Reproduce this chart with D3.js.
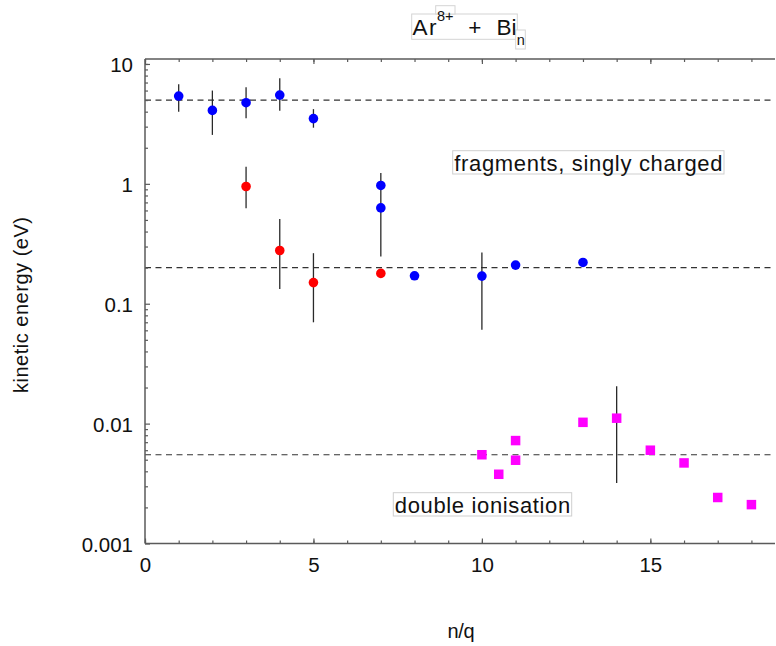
<!DOCTYPE html>
<html>
<head>
<meta charset="utf-8">
<script src="https://cdn.jsdelivr.net/npm/d3@7"></script>
<style>
  html, body { margin: 0; padding: 0; background: #fff; }
  svg { display: block; font-family: Arial, "Liberation Sans", sans-serif; }
</style>
</head>
<body>
<svg id="chart" width="776" height="646"></svg>
<script>
// ---- data ----
const singleN   = [1, 2, 3, 4, 5, 7, 7, 8, 10, 11, 13];
const singleE   = [5.4, 4.1, 4.75, 5.5, 3.5, 0.97, 0.63, 0.171, 0.17, 0.21, 0.221];
const singleLo  = [4.0, 2.56, 3.53, 4.08, 2.94, null, 0.248, null, 0.0607, null, null];
const singleHi  = [6.78, 6.0, 6.4, 7.6, 4.2, null, 1.23, null, 0.268, null, null];

const redN  = [3, 4, 5, 7];
const redE  = [0.95, 0.278, 0.15, 0.179];
const redLo = [0.627, 0.133, 0.07, null];
const redHi = [1.39, 0.508, 0.264, null];

const doubleN  = [10, 10.5, 11, 11, 13, 14, 15, 16, 17, 18];
const doubleE  = [0.0055, 0.00378, 0.00722, 0.00495, 0.01025, 0.0111, 0.006, 0.0047, 0.00242, 0.00211];
const doubleLo = [null, null, null, null, null, 0.0032, null, null, null, null];
const doubleHi = [null, null, null, null, null, 0.0205, null, null, null, null];

const refLevels = [5, 0.2, 0.0055];

const xMajorTicks = [0, 5, 10, 15];
const xMinorTicks = d3.range(0, 19);
const yMajorTicks = [10, 1, 0.1, 0.01, 0.001];
const yTickLabels = ["10", "1", "0.1", "0.01", "0.001"];

// ---- layout ----
const pLeft = 145, pRight = 775, pTop = 59, pBottom = 543.5;
const svg = d3.select("#chart");

const x = d3.scaleLinear().domain([0, 18.7]).range([pLeft, pRight]);
const y = d3.scaleLog().domain([0.001, 11.0]).range([pBottom, pTop]);

const axisColor = "#5a5a5a";

// reference dashed lines
svg.append("g").selectAll("line").data(refLevels).join("line")
  .attr("x1", pLeft).attr("x2", pRight)
  .attr("y1", d => y(d)).attr("y2", d => y(d))
  .attr("stroke", "#333").attr("stroke-width", 1.2)
  .attr("stroke-dasharray", "6,4.5");

// axes
function styleAxis(g) {
  g.select(".domain").remove();
  g.selectAll(".tick line").attr("stroke", axisColor).attr("stroke-width", 1.2);
}
// bottom
svg.append("g").attr("transform", `translate(0,${pBottom})`)
  .call(d3.axisBottom(x).tickValues(xMinorTicks).tickSize(-3).tickFormat(""))
  .call(styleAxis);
const gxb = svg.append("g").attr("transform", `translate(0,${pBottom})`)
  .call(d3.axisBottom(x).tickValues(xMajorTicks).tickSize(-5).tickPadding(13.5).tickFormat(d => d))
  .call(styleAxis);
gxb.selectAll("text").attr("font-size", 20.5).attr("fill", "#111").attr("font-family", "Arial, 'Liberation Sans', sans-serif");
// top
svg.append("g").attr("transform", `translate(0,${pTop})`)
  .call(d3.axisTop(x).tickValues(xMinorTicks).tickSize(-3).tickFormat(""))
  .call(styleAxis);
svg.append("g").attr("transform", `translate(0,${pTop})`)
  .call(d3.axisTop(x).tickValues(xMajorTicks).tickSize(-5).tickFormat(""))
  .call(styleAxis);
// left
const yMinor = [];
[0.001, 0.01, 0.1, 1].forEach(b => { for (let k = 2; k <= 9; k++) yMinor.push(b * k); });
yMinor.push(10);
svg.append("g").attr("transform", `translate(${pLeft},0)`)
  .call(d3.axisLeft(y).tickValues(yMinor).tickSize(-3).tickFormat(""))
  .call(styleAxis);
const gyl = svg.append("g").attr("transform", `translate(${pLeft},0)`)
  .call(d3.axisLeft(y).tickValues(yMajorTicks).tickSize(-5).tickPadding(12)
    .tickFormat((d, i) => yTickLabels[i]))
  .call(styleAxis);
gyl.selectAll("text").attr("font-size", 20.5).attr("fill", "#111").attr("dy", "0.37em")
  .attr("font-family", "Arial, 'Liberation Sans', sans-serif");

// axis lines
svg.append("line").attr("x1", pLeft).attr("x2", pRight).attr("y1", pBottom).attr("y2", pBottom)
  .attr("stroke", axisColor).attr("stroke-width", 1.5);
svg.append("line").attr("x1", pLeft).attr("x2", pRight).attr("y1", pTop).attr("y2", pTop)
  .attr("stroke", axisColor).attr("stroke-width", 1.5);
svg.append("line").attr("x1", pLeft).attr("x2", pLeft).attr("y1", pTop).attr("y2", pBottom)
  .attr("stroke", axisColor).attr("stroke-width", 1.5);

// error bars
function errorBars(ns, lo, hi) {
  const idx = d3.range(ns.length).filter(i => lo[i] != null);
  svg.append("g").selectAll("line").data(idx).join("line")
    .attr("x1", i => x(ns[i])).attr("x2", i => x(ns[i]))
    .attr("y1", i => y(hi[i])).attr("y2", i => y(lo[i]))
    .attr("stroke", "#2a2a2a").attr("stroke-width", 1.3);
}
errorBars(singleN, singleLo, singleHi);
errorBars(redN, redLo, redHi);
errorBars(doubleN, doubleLo, doubleHi);

// points
svg.append("g").selectAll("circle").data(d3.range(singleN.length)).join("circle")
  .attr("cx", i => x(singleN[i])).attr("cy", i => y(singleE[i])).attr("r", 4.8)
  .attr("fill", "#0000ff");
svg.append("g").selectAll("circle").data(d3.range(redN.length)).join("circle")
  .attr("cx", i => x(redN[i])).attr("cy", i => y(redE[i])).attr("r", 4.8)
  .attr("fill", "#ff0000");
const sq = 9.5;
svg.append("g").selectAll("rect").data(d3.range(doubleN.length)).join("rect")
  .attr("x", i => x(doubleN[i]) - sq / 2).attr("y", i => y(doubleE[i]) - sq / 2)
  .attr("width", sq).attr("height", sq)
  .attr("fill", "#ff00ff");

// labelled boxes
function boxLabel(txt, x0, yTop, w, h, baseline, size) {
  svg.append("rect").attr("x", x0).attr("y", yTop).attr("width", w).attr("height", h)
    .attr("fill", "#fff").attr("stroke", "#cfcfcf").attr("stroke-width", 1);
  svg.append("text").attr("x", x0 + 1.5).attr("y", baseline)
    .attr("font-size", size).attr("fill", "#111")
    .attr("textLength", w - 3).attr("lengthAdjust", "spacing")
    .text(txt);
}
boxLabel("fragments, singly charged", 452.7, 150.7, 271.3, 23.3, 170.7, 22);
boxLabel("double ionisation", 393.3, 492.7, 178.4, 23.3, 512.7, 22);

// axis titles
svg.append("text").attr("x", 461).attr("y", 638).attr("text-anchor", "middle")
  .attr("font-size", 20).attr("fill", "#111").attr("textLength", 27).text("n/q");
svg.append("text").attr("transform", "translate(28,305) rotate(-90)")
  .attr("text-anchor", "middle").attr("font-size", 20).attr("fill", "#111")
  .attr("textLength", 176).attr("lengthAdjust", "spacing")
  .text("kinetic energy (eV)");

// chart title with boxed pieces: Ar^8+ + Bi_n
const tg = svg.append("g");
const boxStroke = "#d4d4d4";
tg.append("rect").attr("x", 411.7).attr("y", 14).attr("width", 105.6).attr("height", 25.3)
  .attr("fill", "none").attr("stroke", boxStroke);
tg.append("rect").attr("x", 435.7).attr("y", 5.7).attr("width", 19.3).attr("height", 8.3)
  .attr("fill", "#fff").attr("stroke", boxStroke);
tg.append("rect").attr("x", 515.7).attr("y", 30).attr("width", 9.6).attr("height", 19)
  .attr("fill", "#fff").attr("stroke", boxStroke);
tg.append("text").attr("x", 412.5).attr("y", 34.7).attr("font-size", 22.5).attr("fill", "#111")
  .attr("textLength", 24).text("Ar");
tg.append("text").attr("x", 437).attr("y", 20.5).attr("font-size", 14.5).attr("fill", "#111")
  .attr("textLength", 16.5).text("8+");
tg.append("text").attr("x", 468.3).attr("y", 34.7).attr("font-size", 22.5).attr("fill", "#111")
  .text("+");
tg.append("text").attr("x", 496.5).attr("y", 34.7).attr("font-size", 22.5).attr("fill", "#111")
  .text("Bi");
tg.append("text").attr("x", 516.7).attr("y", 44.5).attr("font-size", 14.5).attr("fill", "#111")
  .text("n");
</script>
</body>
</html>
